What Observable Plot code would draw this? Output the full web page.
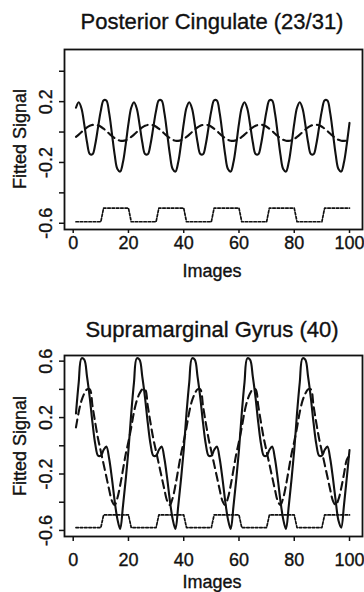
<!DOCTYPE html>
<html>
<head>
<meta charset="utf-8">
<script src="https://cdn.jsdelivr.net/npm/d3@7"></script>
<script src="https://cdn.jsdelivr.net/npm/@observablehq/plot@0.6"></script>
<style>
html, body { margin: 0; padding: 0; background: #fff; }
#root { position: relative; width: 364px; height: 592px; overflow: hidden;
  font-family: "Liberation Sans", Arial, Helvetica, sans-serif; color: #111; }
.txt { position: absolute; white-space: nowrap; text-align: center; -webkit-text-stroke: 0.35px #111; }
.panel { position: absolute; left: 0; }
.panel svg { display: block; overflow: visible; }
.panel svg text { stroke: #111; stroke-width: 0.35px; }
</style>
</head>
<body>
<div id="root"></div>
<script>
// ---- data ----
const images = [
  1,2,3,4,5,6,7,8,9,10,11,12,13,14,15,16,17,18,19,20,
  21,22,23,24,25,26,27,28,29,30,31,32,33,34,35,36,37,38,39,40,
  41,42,43,44,45,46,47,48,49,50,51,52,53,54,55,56,57,58,59,60,
  61,62,63,64,65,66,67,68,69,70,71,72,73,74,75,76,77,78,79,80,
  81,82,83,84,85,86,87,88,89,90,91,92,93,94,95,96,97,98,99,100
];

// Posterior Cingulate (23/31)
const pcSolid = [
  0.160,0.196,0.155,0.051,-0.067,-0.144,-0.146,-0.078,0.032,0.141,0.209,0.207,0.126,-0.008,-0.148,-0.243,-0.260,-0.199,-0.081,0.055,
  0.160,0.196,0.155,0.051,-0.067,-0.144,-0.146,-0.078,0.032,0.141,0.209,0.207,0.126,-0.008,-0.148,-0.243,-0.260,-0.199,-0.081,0.055,
  0.160,0.196,0.155,0.051,-0.067,-0.144,-0.146,-0.078,0.032,0.141,0.209,0.207,0.126,-0.008,-0.148,-0.243,-0.260,-0.199,-0.081,0.055,
  0.160,0.196,0.155,0.051,-0.067,-0.144,-0.146,-0.078,0.032,0.141,0.209,0.207,0.126,-0.008,-0.148,-0.243,-0.260,-0.199,-0.081,0.055,
  0.160,0.196,0.155,0.051,-0.067,-0.144,-0.146,-0.078,0.032,0.141,0.209,0.207,0.126,-0.008,-0.148,-0.243,-0.260,-0.199,-0.081,0.060
];
const pcDashed = [
  -0.032,-0.017,0.000,0.016,0.030,0.041,0.047,0.048,0.044,0.035,0.022,0.007,-0.010,-0.026,-0.040,-0.051,-0.057,-0.058,-0.054,-0.045,
  -0.032,-0.017,0.000,0.016,0.030,0.041,0.047,0.048,0.044,0.035,0.022,0.007,-0.010,-0.026,-0.040,-0.051,-0.057,-0.058,-0.054,-0.045,
  -0.032,-0.017,0.000,0.016,0.030,0.041,0.047,0.048,0.044,0.035,0.022,0.007,-0.010,-0.026,-0.040,-0.051,-0.057,-0.058,-0.054,-0.045,
  -0.032,-0.017,0.000,0.016,0.030,0.041,0.047,0.048,0.044,0.035,0.022,0.007,-0.010,-0.026,-0.040,-0.051,-0.057,-0.058,-0.054,-0.045,
  -0.032,-0.017,0.000,0.016,0.030,0.041,0.047,0.048,0.044,0.035,0.022,0.007,-0.010,-0.026,-0.040,-0.051,-0.057,-0.058,-0.056,-0.052
];
const pcDotted = [
  -0.59,-0.59,-0.59,-0.59,-0.59,-0.59,-0.59,-0.59,-0.59,-0.59,-0.50,-0.50,-0.50,-0.50,-0.50,-0.50,-0.50,-0.50,-0.50,-0.50,
  -0.59,-0.59,-0.59,-0.59,-0.59,-0.59,-0.59,-0.59,-0.59,-0.59,-0.50,-0.50,-0.50,-0.50,-0.50,-0.50,-0.50,-0.50,-0.50,-0.50,
  -0.59,-0.59,-0.59,-0.59,-0.59,-0.59,-0.59,-0.59,-0.59,-0.59,-0.50,-0.50,-0.50,-0.50,-0.50,-0.50,-0.50,-0.50,-0.50,-0.50,
  -0.59,-0.59,-0.59,-0.59,-0.59,-0.59,-0.59,-0.59,-0.59,-0.59,-0.50,-0.50,-0.50,-0.50,-0.50,-0.50,-0.50,-0.50,-0.50,-0.50,
  -0.59,-0.59,-0.59,-0.59,-0.59,-0.59,-0.59,-0.59,-0.59,-0.59,-0.50,-0.50,-0.50,-0.50,-0.50,-0.50,-0.50,-0.50,-0.50,-0.50
];

// Supramarginal Gyrus (40)
const smSolid = [
  0.23,0.45,0.62,0.61,0.49,0.34,0.16,0.01,-0.07,-0.07,-0.03,-0.005,-0.09,-0.23,-0.39,-0.52,-0.59,-0.43,-0.24,-0.03,
  0.23,0.45,0.62,0.61,0.49,0.34,0.16,0.01,-0.07,-0.07,-0.03,-0.005,-0.09,-0.23,-0.39,-0.52,-0.59,-0.43,-0.24,-0.03,
  0.23,0.45,0.62,0.61,0.49,0.34,0.16,0.01,-0.07,-0.07,-0.03,-0.005,-0.09,-0.23,-0.39,-0.52,-0.59,-0.43,-0.24,-0.03,
  0.23,0.45,0.62,0.61,0.49,0.34,0.16,0.01,-0.07,-0.07,-0.03,-0.005,-0.09,-0.23,-0.39,-0.52,-0.59,-0.43,-0.24,-0.03,
  0.23,0.45,0.62,0.61,0.49,0.34,0.16,0.01,-0.07,-0.07,-0.03,-0.005,-0.09,-0.23,-0.39,-0.53,-0.58,-0.42,-0.23,-0.03
];
const smDashed = [
  0.13,0.24,0.32,0.37,0.40,0.40,0.28,0.16,0.05,-0.04,-0.13,-0.22,-0.31,-0.39,-0.42,-0.37,-0.28,-0.17,-0.06,0.03,
  0.13,0.24,0.32,0.37,0.40,0.40,0.28,0.16,0.05,-0.04,-0.13,-0.22,-0.31,-0.39,-0.42,-0.37,-0.28,-0.17,-0.06,0.03,
  0.13,0.24,0.32,0.37,0.40,0.40,0.28,0.16,0.05,-0.04,-0.13,-0.22,-0.31,-0.39,-0.42,-0.37,-0.28,-0.17,-0.06,0.03,
  0.13,0.24,0.32,0.37,0.40,0.40,0.28,0.16,0.05,-0.04,-0.13,-0.22,-0.31,-0.39,-0.42,-0.37,-0.28,-0.17,-0.06,0.03,
  0.13,0.24,0.32,0.37,0.40,0.40,0.28,0.16,0.05,-0.04,-0.13,-0.22,-0.31,-0.39,-0.42,-0.38,-0.30,-0.20,-0.10,-0.07
];
const smDotted = [
  -0.58,-0.58,-0.58,-0.58,-0.58,-0.58,-0.58,-0.58,-0.58,-0.58,-0.49,-0.49,-0.49,-0.49,-0.49,-0.49,-0.49,-0.49,-0.49,-0.49,
  -0.58,-0.58,-0.58,-0.58,-0.58,-0.58,-0.58,-0.58,-0.58,-0.58,-0.49,-0.49,-0.49,-0.49,-0.49,-0.49,-0.49,-0.49,-0.49,-0.49,
  -0.58,-0.58,-0.58,-0.58,-0.58,-0.58,-0.58,-0.58,-0.58,-0.58,-0.49,-0.49,-0.49,-0.49,-0.49,-0.49,-0.49,-0.49,-0.49,-0.49,
  -0.58,-0.58,-0.58,-0.58,-0.58,-0.58,-0.58,-0.58,-0.58,-0.58,-0.49,-0.49,-0.49,-0.49,-0.49,-0.49,-0.49,-0.49,-0.49,-0.49,
  -0.58,-0.58,-0.58,-0.58,-0.58,-0.58,-0.58,-0.58,-0.58,-0.58,-0.49,-0.49,-0.49,-0.49,-0.49,-0.49,-0.49,-0.49,-0.49,-0.49
];

// tick values and labels
const xTicks = [0, 20, 40, 60, 80, 100];
const xTickLabels = ["0", "20", "40", "60", "80", "100"];
const pcYTicks = [-0.6, -0.4, -0.2, 0, 0.2, 0.4];
const pcYTickLabels = ["-0.6", "", "-0.2", "", "0.2", ""];
const smYTicks = [-0.6, -0.4, -0.2, 0, 0.2, 0.4, 0.6];
const smYTickLabels = ["-0.6", "", "-0.2", "", "0.2", "", "0.6"];

const titles = ["Posterior Cingulate (23/31)", "Supramarginal Gyrus (40)"];
const xTitle = "Images";
const yTitle = "Fitted Signal";

// ---- drawing ----
const root = document.getElementById("root");
const INK = "#111";

function addText(str, {left, top, width, size, rotate}) {
  const d = document.createElement("div");
  d.className = "txt";
  d.textContent = str;
  d.style.left = left + "px";
  d.style.top = top + "px";
  d.style.width = width + "px";
  d.style.fontSize = size + "px";
  d.style.lineHeight = size + "px";
  d.style.height = size + "px";
  if (rotate) { d.style.transform = "rotate(-90deg)"; d.style.transformOrigin = "50% 50%"; }
  root.appendChild(d);
}

function panel(cfg) {
  const rows = images.map((im, i) => ({image: im, solid: cfg.solid[i], dashed: cfg.dashed[i], dotted: cfg.dotted[i]}));
  const yLab = new Map(cfg.yTicks.map((t, i) => [t, cfg.yLabels[i]]));
  const xLab = new Map(xTicks.map((t, i) => [t, xTickLabels[i]]));
  const H = cfg.svgHeight;
  const chart = Plot.plot({
    width: 364,
    height: H,
    marginLeft: 64,
    marginRight: 2,
    marginTop: cfg.frameTop - cfg.top,
    marginBottom: cfg.top + H - cfg.frameBottom,
    style: {fontFamily: "'Liberation Sans', Arial, Helvetica, sans-serif", fontSize: "18px", color: INK, background: "transparent", overflow: "visible"},
    x: {domain: [-3.15, 104.7]},
    y: {domain: cfg.yDomain},
    marks: [
      Plot.axisX({ticks: xTicks, tickSize: cfg.xTickSize, tickPadding: cfg.xTickPadding, tickFormat: d => xLab.get(d), label: null, stroke: INK, strokeWidth: 1.5, fill: INK}),
      Plot.axisY({ticks: cfg.yTicks, tickSize: 5, tickPadding: 7.5, tickRotate: -90, tickFormat: d => yLab.get(d), label: null, stroke: INK, strokeWidth: 1.5, fill: INK}),
      Plot.line(rows, {x: "image", y: "dotted", stroke: INK, strokeWidth: 1.7, strokeDasharray: "2.5,1.8"}),
      Plot.line(rows, {x: "image", y: "dashed", stroke: INK, strokeWidth: 2.1, strokeDasharray: "8,5", curve: "catmull-rom"}),
      Plot.line(rows, {x: "image", y: "solid", stroke: INK, strokeWidth: 2.1, curve: "catmull-rom"}),
      Plot.frame({stroke: INK, strokeWidth: 1.8})
    ]
  });
  const wrap = document.createElement("div");
  wrap.className = "panel";
  wrap.style.top = cfg.top + "px";
  wrap.appendChild(chart);
  root.appendChild(wrap);

  addText(cfg.title, {left: 12, top: cfg.titleBaseline - 0.8465 * 22, width: 400, size: 22});
  addText(xTitle, {left: 112, top: cfg.xLabelBaseline - 0.8465 * 18, width: 200, size: 18});
  const cy = (cfg.frameTop + cfg.frameBottom) / 2;
  addText(yTitle, {left: 19.8 - 100, top: cy - 9, width: 200, size: 18, rotate: true});
}

panel({
  title: titles[0], solid: pcSolid, dashed: pcDashed, dotted: pcDotted,
  yDomain: [-0.641, 0.543], yTicks: pcYTicks, yLabels: pcYTickLabels,
  top: 38, svgHeight: 252, frameTop: 49, frameBottom: 229,
  xTickSize: 4, xTickPadding: 3,
  titleBaseline: 30, xLabelBaseline: 277
});
panel({
  title: titles[1], solid: smSolid, dashed: smDashed, dotted: smDotted,
  yDomain: [-0.643, 0.64], yTicks: smYTicks, yLabels: smYTickLabels,
  top: 348, svgHeight: 244, frameTop: 355, frameBottom: 536,
  xTickSize: 5, xTickPadding: 12,
  titleBaseline: 338, xLabelBaseline: 588
});
</script>
</body>
</html>
